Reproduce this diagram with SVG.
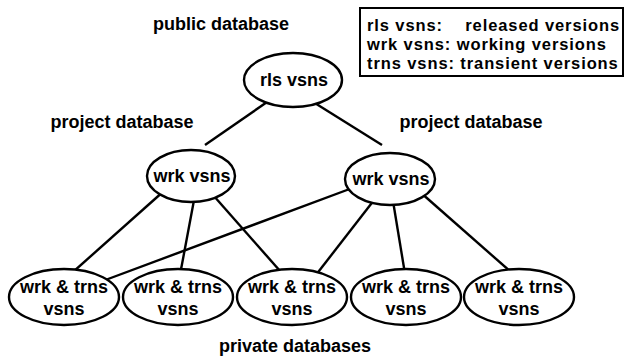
<svg xmlns="http://www.w3.org/2000/svg" width="626" height="357" viewBox="0 0 626 357">
<style>
text{font-family:"Liberation Sans",Arial,sans-serif;font-weight:bold;font-size:18px;fill:#000;text-anchor:middle}
.n{fill:#fff;stroke:#000;stroke-width:2.4}
.e line{stroke:#000;stroke-width:2.4}
.lg{text-anchor:start;font-size:16.5px;letter-spacing:0.9px}
</style>
<rect width="626" height="357" fill="#fff"/>
<text x="221" y="30">public database</text>
<text x="122" y="128">project database</text>
<text x="471" y="128">project database</text>
<text x="295" y="352">private databases</text>
<g id="legend">
<rect x="360" y="8" width="263" height="68" fill="#fff" stroke="#000" stroke-width="2"/>
<text class="lg" x="367" y="31">rls vsns:<tspan x="620" style="text-anchor:end">released versions</tspan></text>
<text class="lg" x="367" y="50">wrk vsns: working versions</text>
<text class="lg" x="367" y="69">trns vsns: transient versions</text>
</g>
<g id="connectors" class="e">
<line x1="270" y1="100" x2="205" y2="145"/>
<line x1="310" y1="100" x2="382" y2="145"/>
<line x1="165" y1="190" x2="64" y2="280"/>
<line x1="195" y1="195" x2="179" y2="280"/>
<line x1="213" y1="195" x2="288" y2="280"/>
<line x1="355" y1="187" x2="100" y2="282"/>
<line x1="378" y1="195" x2="312" y2="280"/>
<line x1="392" y1="195" x2="406" y2="280"/>
<line x1="420" y1="192" x2="520" y2="280"/>
</g>
<g id="rls"><ellipse class="n" cx="293" cy="80" rx="49" ry="27"/><text x="294" y="86">rls vsns</text></g>
<g id="wrk1"><ellipse class="n" cx="191" cy="176" rx="44" ry="26"/><text x="192" y="182">wrk vsns</text></g>
<g id="wrk2"><ellipse class="n" cx="390" cy="179" rx="45" ry="26"/><text x="391" y="185">wrk vsns</text></g>
<g id="p1"><ellipse class="n" cx="64" cy="297" rx="55" ry="28"/><text x="64" y="293">wrk &amp; trns</text><text x="64" y="315">vsns</text></g>
<g id="p2"><ellipse class="n" cx="178" cy="297" rx="55" ry="28"/><text x="178" y="293">wrk &amp; trns</text><text x="178" y="315">vsns</text></g>
<g id="p3"><ellipse class="n" cx="292" cy="297" rx="55" ry="28"/><text x="292" y="293">wrk &amp; trns</text><text x="292" y="315">vsns</text></g>
<g id="p4"><ellipse class="n" cx="406" cy="297" rx="55" ry="28"/><text x="406" y="293">wrk &amp; trns</text><text x="406" y="315">vsns</text></g>
<g id="p5"><ellipse class="n" cx="519" cy="297" rx="55" ry="28"/><text x="519" y="293">wrk &amp; trns</text><text x="519" y="315">vsns</text></g>
</svg>
